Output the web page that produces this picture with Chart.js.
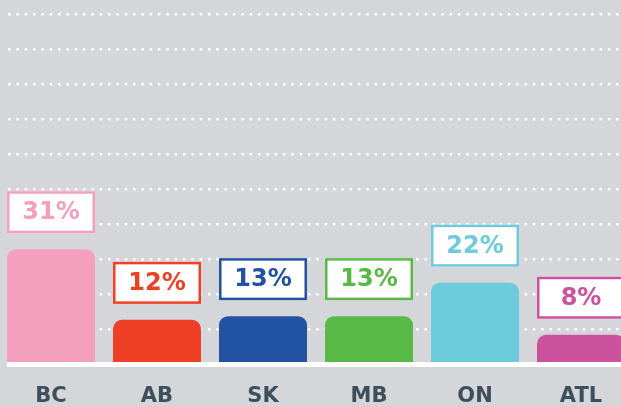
<!DOCTYPE html>
<html>
<head>
<meta charset="utf-8">
<script src="https://cdn.jsdelivr.net/npm/chart.js@4.4.0/dist/chart.umd.min.js"></script>
<style>
  html, body { margin: 0; padding: 0; background: #d5d6da; overflow: hidden; }
  #wrap { position: absolute; left: 7px; top: 0; width: 614px; height: 406px; overflow: hidden; }
  #chart { position: absolute; left: -9px; top: 0; }
</style>
</head>
<body>
<div id="wrap"><canvas id="chart" width="636" height="406"></canvas></div>
<script>
// regions and their shares (%)
const regions = ['BC', 'AB', 'SK', 'MB', 'ON', 'ATL'];
const shares = [31, 12, 13, 13, 22, 8];
const barColors = ['#f4a0bd', '#ef3f24', '#2253a3', '#58b947', '#6ccbdc', '#cd529e'];

// white boxes with the value above each bar
const valueBoxes = {
  id: 'valueBoxes',
  afterDatasetsDraw(chart) {
    const ctx = chart.ctx;
    const meta = chart.getDatasetMeta(0);
    meta.data.forEach((bar, i) => {
      const w = bar.width;
      const x = bar.x - w / 2;
      const h = 42;
      const top = bar.y - 16 - h;
      ctx.save();
      ctx.fillStyle = '#ffffff';
      ctx.fillRect(x, top, w, h);
      ctx.lineWidth = 2.5;
      ctx.strokeStyle = barColors[i];
      ctx.strokeRect(x + 1.25, top + 1.25, w - 2.5, h - 2.5);
      ctx.fillStyle = barColors[i];
      ctx.font = 'bold 24px "DejaVu Sans"';
      ctx.textAlign = 'center';
      ctx.textBaseline = 'middle';
      ctx.fillText(shares[i] + '%', bar.x, top + h / 2 + 1);
      ctx.restore();
    });
  }
};

new Chart(document.getElementById('chart'), {
  type: 'bar',
  data: {
    labels: regions,
    datasets: [{
      data: shares,
      backgroundColor: barColors,
      borderWidth: 0,
      borderRadius: 9,
      barPercentage: 0.83,
      categoryPercentage: 1
    }]
  },
  options: {
    responsive: false,
    animation: false,
    devicePixelRatio: 1,
    layout: { padding: 0 },
    plugins: { legend: { display: false }, tooltip: { enabled: false } },
    scales: {
      x: {
        grid: { display: false },
        border: { display: true, color: '#ffffff', width: 5, z: 1 },
        ticks: {
          padding: 11,
          color: '#3e4e5a',
          font: { family: 'DejaVu Sans', size: 21, weight: 'bold' }
        },
        afterFit: s => { s.height = 41.5; }
      },
      y: {
        min: 0,
        max: 98,
        grid: { color: '#ffffff', lineWidth: 2.5, drawTicks: false },
        border: { display: false, dash: [2.5, 5.83], dashOffset: 6.6 },
        ticks: { display: false, stepSize: 9.41, includeBounds: false },
        afterFit: s => { s.width = 0; }
      }
    }
  },
  plugins: [valueBoxes]
});
</script>
</body>
</html>
